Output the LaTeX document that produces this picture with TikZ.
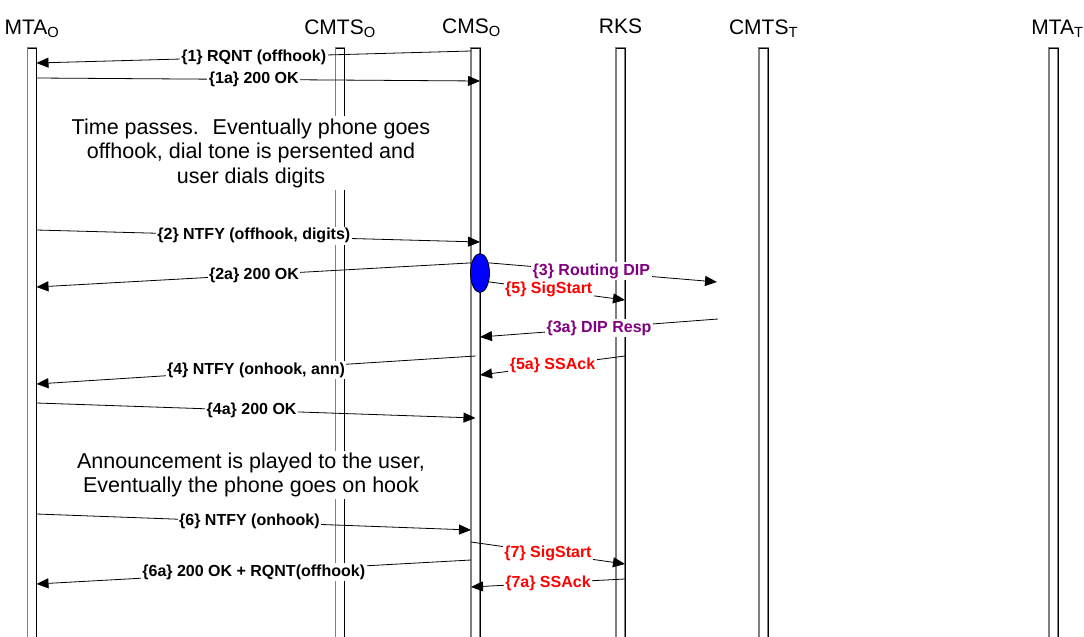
\documentclass[tikz,border=0pt]{standalone}
\usepackage{fontspec}
\setmainfont{Liberation Sans}
\usepackage{xcolor}
\usepackage{tikz}
\usetikzlibrary{arrows.meta,calc,positioning,shapes.geometric}
\definecolor{dippurple}{HTML}{800080}
\definecolor{sigred}{HTML}{FF0000}

\begin{document}
\begin{tikzpicture}[x=1pt,y=-1pt,
    life/.style={draw=black!50,line width=1.3pt,minimum width=9pt,minimum height=592pt,
                 inner sep=0pt,outer sep=0pt,anchor=north},
    rim/.style={black,line width=1pt},
    head/.style={font=\fontsize{21}{24}\selectfont,anchor=base,inner sep=0pt},
    msg/.style={-{Triangle[length=12pt,width=10pt]},line width=0.8pt,black},
    lbl/.style={font=\fontsize{16}{18}\selectfont\bfseries,fill=white,inner sep=1.5pt},
    note/.style={font=\fontsize{21.5}{24.5}\selectfont,align=center,fill=white,inner sep=2pt}
  ]
    \useasboundingbox (0,0) rectangle (1084,637);
    \node[life] (mtao) at (32,48) {};
    \node[life] (cmtso) at (340,48) {};
    \node[life] (cmso) at (475.5,48) {};
    \node[life] (rks) at (620.5,48) {};
    \node[life] (cmtst) at (763.5,48) {};
    \node[life] (mtat) at (1053.5,48) {};
    \draw[rim] (mtao.north west) -- (mtao.north east) -- (mtao.south east);
    \draw[rim] (cmtso.north west) -- (cmtso.north east) -- (cmtso.south east);
    \draw[rim] (cmso.north west) -- (cmso.north east) -- (cmso.south east);
    \draw[rim] (rks.north west) -- (rks.north east) -- (rks.south east);
    \draw[rim] (cmtst.north west) -- (cmtst.north east) -- (cmtst.south east);
    \draw[rim] (mtat.north west) -- (mtat.north east) -- (mtat.south east);

    \node[head] (mtaohd) at ([yshift=13.5pt]mtao.north) {MTA\textsubscript{O}};
    \node[head] (cmtsohd) at ([yshift=13.5pt]cmtso.north) {CMTS\textsubscript{O}};
    \node[head] (cmsohd) at ([xshift=-4pt,yshift=15pt]cmso.north) {CMS\textsubscript{O}};
    \node[head] (rkshd) at ([yshift=15pt]rks.north) {RKS};
    \node[head] (cmtsthd) at ([yshift=13.5pt]cmtst.north) {CMTS\textsubscript{T}};
    \node[head] (mtathd) at ([xshift=4pt,yshift=13.5pt]mtat.north) {MTA\textsubscript{T}};

    \node[note] (waitnote) at (251,153) {Time passes.~ Eventually phone goes\\offhook, dial tone is persented and\\user dials digits};
    \node[note] (annnote) at (251,475) {Announcement is played to the user,\\Eventually the phone goes on hook};

    \node[ellipse,draw=black,fill=blue,line width=0.8pt,minimum width=19pt,minimum height=39pt,
          inner sep=0pt] (proc) at (480,273) {};
    \coordinate (dipto) at (717,282);
    \coordinate (dipfrom) at (718,319);

    \draw[msg] (cmso.west |- 0,51) -- node[lbl]{\{1\} RQNT (offhook)} (mtao.east |- 0,63);
    \draw[msg] (mtao.east |- 0,78) -- node[lbl,pos=0.49]{\{1a\} 200 OK} (cmso.east |- 0,81);
    \draw[msg] (mtao.east |- 0,230) -- node[lbl,pos=0.49]{\{2\} NTFY (offhook, digits)} (cmso.east |- 0,242);
    \draw[msg] (proc.130) -- node[lbl]{\{2a\} 200 OK} (mtao.east |- 0,287);
    \draw[msg] (proc.50) -- node[lbl,text=dippurple,pos=0.45]{\{3\} Routing DIP} (dipto);
    \draw[msg] (proc.-45) -- node[lbl,text=sigred,pos=0.44]{\{5\} SigStart} (rks.east |- 0,300);
    \draw[msg] (dipfrom) -- node[lbl,text=dippurple]{\{3a\} DIP Resp} (cmso.east |- 0,337);
    \draw[msg] (rks.east |- 0,356) -- node[lbl,text=sigred]{\{5a\} SSAck} (cmso.east |- 0,375);
    \draw[msg] (cmso |- 0,356) -- node[lbl]{\{4\} NTFY (onhook, ann)} (mtao.east |- 0,384);
    \draw[msg] (mtao.east |- 0,403) -- node[lbl,pos=0.49]{\{4a\} 200 OK} (cmso |- 0,418);
    \draw[msg] (mtao.east |- 0,514) -- node[lbl,pos=0.49]{\{6\} NTFY (onhook)} (cmso.west |- 0,530);
    \draw[msg] (cmso.west |- 0,542) -- node[lbl,text=sigred]{\{7\} SigStart} (rks.east |- 0,564);
    \draw[msg] (cmso.west |- 0,560) -- node[lbl]{\{6a\} 200 OK + RQNT(offhook)} (mtao.east |- 0,584);
    \draw[msg] (rks.east |- 0,579) -- node[lbl,text=sigred]{\{7a\} SSAck} (cmso.west |- 0,587);
\end{tikzpicture}
\end{document}
